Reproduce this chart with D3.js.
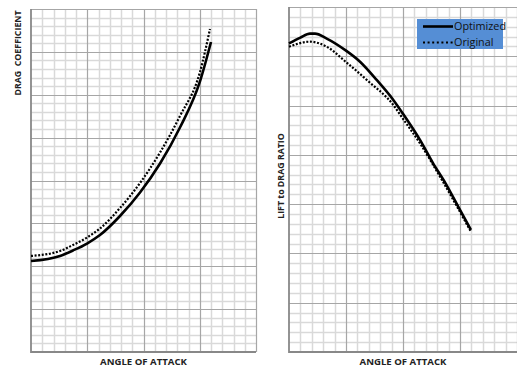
<!DOCTYPE html>
<html>
<head>
<meta charset="utf-8">
<script src="https://cdn.jsdelivr.net/npm/d3@7"></script>
<style>
  body { margin: 0; background: #fff; }
  svg { display: block; }
  text { font-family: "Open Sans", "Liberation Sans", sans-serif; }
</style>
</head>
<body>
<svg id="chart" width="517" height="367"></svg>
<script>
// values, in grid (minor cell) units
const dragOptX = [0, 2.58, 3.73, 4.98, 6.13, 7.91, 9.69, 11.47, 13.24, 15.02, 16.0];
const dragOptY = [10.61, 11.2, 11.84, 12.65, 13.64, 15.86, 18.6, 21.98, 26.18, 31.55, 36.15];
const dragOrigX = [0, 2.58, 3.73, 4.98, 6.13, 7.91, 9.69, 11.47, 13.24, 15.02, 15.91];
const dragOrigY = [11.2, 11.78, 12.48, 13.35, 14.4, 16.79, 19.71, 23.27, 27.52, 32.65, 37.67];

const ldOptX = [0, 1.0, 1.84, 2.28, 3.31, 4.97, 6.23, 7.69, 9.15, 9.97, 11.49, 12.63, 13.77, 14.82, 15.96];
const ldOptY = [31.3, 31.9, 32.3, 32.3, 31.8, 30.6, 29.45, 27.6, 25.57, 24.22, 21.52, 19.17, 17.04, 14.81, 12.38];
const ldOrigX = [0, 1.84, 3.31, 4.97, 6.82, 9.15, 9.97, 11.49, 13.25, 15.96];
const ldOrigY = [30.97, 31.48, 30.97, 29.45, 27.6, 25.06, 23.71, 21.17, 17.78, 12.2];

const seriesNames = ["Optimized", "Original"];
const xTitle = "ANGLE OF ATTACK";
const leftTitle = "DRAG  COEFFICIENT";
const rightTitle = "LIFT to DRAG RATIO";

const svg = d3.select("#chart");

function zip(xs, ys) { return xs.map((x, i) => ({ x: x, y: ys[i] })); }

function drawPanel(opts) {
    const x = d3.scaleLinear().domain([0, opts.xCells]).range([opts.left, opts.right]);
    const y = d3.scaleLinear().domain([0, opts.yCells]).range([opts.bottom, opts.top]);
    const g = svg.append("g");

    // minor grid first, then major on top
    const xs = d3.range(0, opts.xCells + 1);
    const ys = d3.range(0, opts.yCells + 1);
    g.selectAll(".vminor").data(xs.filter(d => d % 5 != 0)).enter().append("line")
        .attr("x1", d => Math.round(x(d)) + 0.5).attr("x2", d => Math.round(x(d)) + 0.5)
        .attr("y1", opts.top).attr("y2", opts.bottom)
        .attr("stroke", "#d9d9d9").attr("stroke-width", 1.5);
    g.selectAll(".hminor").data(ys.filter(d => d % 5 != 0)).enter().append("line")
        .attr("y1", d => Math.round(y(d)) + 0.5).attr("y2", d => Math.round(y(d)) + 0.5)
        .attr("x1", opts.left).attr("x2", opts.right)
        .attr("stroke", "#d9d9d9").attr("stroke-width", 1.5);
    g.selectAll(".vmajor").data(xs.filter(d => d % 5 == 0 && d > 0)).enter().append("line")
        .attr("x1", d => Math.round(x(d)) + 0.5).attr("x2", d => Math.round(x(d)) + 0.5)
        .attr("y1", opts.top).attr("y2", opts.bottom)
        .attr("stroke", "#a6a6a6").attr("stroke-width", 1.2);
    g.selectAll(".hmajor").data(ys.filter(d => d % 5 == 0 && d > 0)).enter().append("line")
        .attr("y1", d => Math.round(y(d)) + 0.5).attr("y2", d => Math.round(y(d)) + 0.5)
        .attr("x1", opts.left).attr("x2", opts.right)
        .attr("stroke", "#a6a6a6").attr("stroke-width", 1.2);

    // axis lines left and bottom
    g.append("line").attr("x1", opts.left).attr("x2", opts.left)
        .attr("y1", opts.top).attr("y2", opts.bottom + 1)
        .attr("stroke", "#888").attr("stroke-width", 1.8);
    g.append("line").attr("x1", opts.left).attr("x2", opts.right)
        .attr("y1", opts.bottom).attr("y2", opts.bottom)
        .attr("stroke", "#888").attr("stroke-width", 1.8);

    const line = d3.line().x(d => x(d.x)).y(d => y(d.y)).curve(d3.curveMonotoneX);
    g.append("path").datum(zip(opts.origX, opts.origY))
        .attr("fill", "none").attr("stroke", "#000").attr("stroke-width", 2.2)
        .attr("stroke-dasharray", "2,1.6").attr("d", line);
    g.append("path").datum(zip(opts.optX, opts.optY))
        .attr("fill", "none").attr("stroke", "#000").attr("stroke-width", 2.6)
        .attr("d", line);

    // titles
    svg.append("text").attr("x", (opts.left + opts.right) / 2).attr("y", 365)
        .attr("text-anchor", "middle").attr("font-size", 9.6).attr("font-weight", "bold")
        .attr("fill", "#222").text(xTitle);
    svg.append("text")
        .attr("transform", "translate(" + opts.titleX + "," + opts.titleY + ") rotate(-90)")
        .attr("text-anchor", "middle").attr("dominant-baseline", "middle")
        .attr("font-size", 8.8).attr("font-weight", "bold")
        .attr("fill", "#222").attr("xml:space", "preserve")
        .style("white-space", "pre").text(opts.title);
    return g;
}

drawPanel({
    left: 31, right: 256, top: 9, bottom: 352, xCells: 20, yCells: 40,
    optX: dragOptX, optY: dragOptY, origX: dragOrigX, origY: dragOrigY,
    title: leftTitle, titleX: 19, titleY: 53
});

drawPanel({
    left: 289, right: 517, top: 7, bottom: 352, xCells: 20, yCells: 35,
    optX: ldOptX, optY: ldOptY, origX: ldOrigX, origY: ldOrigY,
    title: rightTitle, titleX: 282, titleY: 176
});

// legend
const legend = svg.append("g");
legend.append("rect").attr("x", 417).attr("y", 19).attr("width", 86).attr("height", 30)
    .attr("fill", "#558ed5");
seriesNames.forEach((name, i) => {
    const ly = 26.5 + i * 16;
    legend.append("line").attr("x1", 423).attr("x2", 453).attr("y1", ly).attr("y2", ly)
        .attr("stroke", "#000").attr("stroke-width", i == 0 ? 2.6 : 2.2)
        .attr("stroke-dasharray", i == 0 ? null : "2,2.6");
    legend.append("text").attr("x", 454).attr("y", ly + 0.5).attr("dominant-baseline", "middle")
        .attr("font-size", 10.8).attr("fill", "#111").text(name);
});
</script>
</body>
</html>
